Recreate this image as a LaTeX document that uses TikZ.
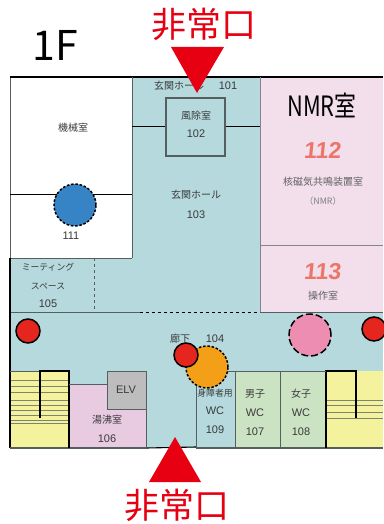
\documentclass[tikz,border=0pt]{standalone}
\usepackage{fontspec}
\setmainfont{Noto Sans CJK JP}
\newfontfamily\lat{Liberation Sans}
\definecolor{teal}{HTML}{B5D9DD}
\definecolor{nmr}{HTML}{F2DFEB}
\definecolor{yel}{HTML}{F5F29E}
\definecolor{grn}{HTML}{CCE3C3}
\definecolor{pk}{HTML}{E9CBE1}
\definecolor{elv}{HTML}{BDBDBD}
\definecolor{wall}{HTML}{555F60}
\definecolor{exitred}{HTML}{E60012}
\definecolor{dotred}{HTML}{E5261F}
\definecolor{salmon}{HTML}{EC7468}
\definecolor{lab}{HTML}{3A3A3A}
\definecolor{bluec}{RGB}{54,131,198}
\definecolor{pinkc}{RGB}{238,141,178}
\definecolor{orangec}{RGB}{243,160,24}
\tikzset{
  wallline/.style={draw=wall,line width=0.9pt},
  lbl/.style={font=\fontsize{10}{12}\selectfont,text=lab,inner sep=0pt},
  lblsmall/.style={font=\fontsize{8.8}{10}\selectfont,text=lab,inner sep=0pt},
  num/.style={font=\lat\fontsize{11}{13}\selectfont,text=lab,inner sep=0pt},
  exit/.style={font=\fontsize{35}{37}\selectfont,text=exitred,inner sep=0pt},
  bigred/.style={font=\lat\bfseries\fontsize{23}{25}\selectfont,text=salmon,inner sep=0pt,xslant=0.1},
  reddot/.style={circle,draw=black,line width=1.5pt,fill=dotred,minimum size=24pt,inner sep=0pt},
  dashdot/.style={circle,draw=black,dash pattern=on 2.5pt off 1.8pt,line width=1.5pt,minimum size=42pt,inner sep=0pt},
  steps/.style={draw=wall!75!yel,line width=0.6pt},
}
\begin{document}
\begin{tikzpicture}[x=1pt,y=-1pt]
\useasboundingbox (0,0) rectangle (383,524);
\fill[white] (0,0) rectangle (383,524);
% floors
\fill[teal] (10,77) rectangle (383,448);
\fill[white] (10,77) rectangle (132,258);
\fill[nmr] (260,77) rectangle (383,312);
\fill[yel] (10,371) rectangle (69,448);
\fill[yel] (326,371) rectangle (383,448);
\fill[pk] (69,384) rectangle (146,448);
\fill[elv] (107,371) rectangle (146,409);
\fill[grn] (235,371) rectangle (326,448);
% stair treads
\foreach \y in {380,386,392,400,405,410,415,420,423}{
  \draw[steps] (10,\y) -- (69,\y);
}
\foreach \y in {400,405,412,418}{
  \draw[steps] (326,\y) -- (383,\y);
}
% walls
\draw[wallline] (10,258) -- (10,77);
\draw[black,line width=1.2pt] (10,77) -- (383,77);
\draw[wallline] (10,258) -- (132,258);
\draw[wallline] (132,77) -- (132,258);
\draw[black,line width=0.7pt] (10,194) -- (132,194);
\draw[black,line width=0.7pt] (132,126) -- (166,126);
\draw[black,line width=0.7pt] (225,126) -- (260,126);
\draw[wallline,line width=1.2pt] (166,98) rectangle (225,156);
\draw[draw=wall!70!nmr,line width=1pt] (260,77) -- (260,312);
\draw[draw=wall!70!nmr,line width=1pt] (260,245) -- (383,245);
\draw[wallline,dashed,line width=0.7pt] (94,258) -- (94,312);
\draw[wallline] (10,312) -- (140,312);
\draw[black,dashed,line width=0.7pt] (140,312) -- (260,312);
\draw[wallline] (260,312) -- (383,312);
\draw[black,line width=1.1pt] (10,258) -- (10,448);
\draw[wallline,line width=1.1pt] (10,448) -- (146,448);
\draw[black,line width=1.1pt] (146,448) -- (196,447);
\draw[wallline,line width=1.1pt] (196,448) -- (383,448);
% stairs
\draw[wallline] (10,371) -- (40,371);
\draw[black,line width=1.5pt] (40,418) -- (40,371) -- (69,371) -- (69,448);
\draw[black,line width=1.5pt] (326,448) -- (326,371) -- (356,371) -- (356,418);
% lower rooms
\draw[wallline] (69,384) -- (107,384);
\draw[wallline] (107,371) rectangle (146,409);
\draw[wallline] (146,409) -- (146,448);
\draw[wallline] (196,371) -- (196,447);
\draw[wallline] (196,371) -- (326,371);
\draw[wallline] (235,371) -- (235,448);
\draw[wallline] (280,371) -- (280,448);
% labels under the marks
\node[lbl,anchor=west] (l3) at (154,86) {玄関ホール};
% circles
\node[dashdot,fill=bluec] (blue) at (75,205) {};
\node[dashdot,fill=pinkc,dash pattern=on 7pt off 3pt] (pinkcirc) at (310,335) {};
\node[dashdot,fill=orangec] (orange) at (207,367) {};
\node[reddot] (r1) at (28,331) {};
\node[reddot] (r2) at (186,355) {};
\node[reddot] (r3) at (374,329) {};
% triangles
\fill[exitred] (171,47) -- (224,47) -- (197,93) -- cycle;
\fill[exitred] (149,482) -- (201,482) -- (175,437) -- cycle;
% labels
\node[exit] (e1) at (204,24) {非常口};
\node[exit] (e2) at (177,505) {非常口};
\node[inner sep=0pt,font=\fontsize{41}{43}\selectfont] (oneF) at (55,45) {1F};
\node[lbl] (l1) at (73,128) {機械室};
\node[num] (l2) at (71,236) {111};
\node[num] (l4) at (228,86) {101};
\node[lbl] (l5) at (196,116) {風除室};
\node[num] (l6) at (196,134) {102};
\node[lbl] (l7) at (196,195) {玄関ホール};
\node[num] (l8) at (196,215) {103};
\node[lblsmall] (l9) at (48,267) {ミーティング};
\node[lblsmall] (l10) at (48,286) {スペース};
\node[num] (l11) at (48,304) {105};
\node[inner sep=0pt,xscale=0.78,font=\fontsize{28}{30}\selectfont] (l12) at (322,105) {NMR室};
\node[bigred] (l13) at (323,150) {112};
\node[lbl,text=lab!80] (l14) at (323,182) {核磁気共鳴装置室};
\node[lblsmall,text=lab!65] (l15) at (323,201) {（NMR）};
\node[bigred] (l16) at (323,272) {113};
\node[lbl,text=lab!80] (l17) at (323,296) {操作室};
\node[lbl] (l18) at (180,339) {廊下};
\node[num] (l19) at (215,339) {104};
\node[num] (l20) at (126,390) {ELV};
\node[lbl] (l21) at (107,420) {湯沸室};
\node[num] (l22) at (107,439) {106};
\node[lblsmall] (l23) at (215,393) {身障者用};
\node[num] (l24) at (215,411) {WC};
\node[num] (l25) at (215,430) {109};
\node[lbl] (l26) at (255,394) {男子};
\node[num] (l27) at (255,413) {WC};
\node[num] (l28) at (255,432) {107};
\node[lbl] (l29) at (301,394) {女子};
\node[num] (l30) at (301,413) {WC};
\node[num] (l31) at (301,432) {108};
\end{tikzpicture}
\end{document}
